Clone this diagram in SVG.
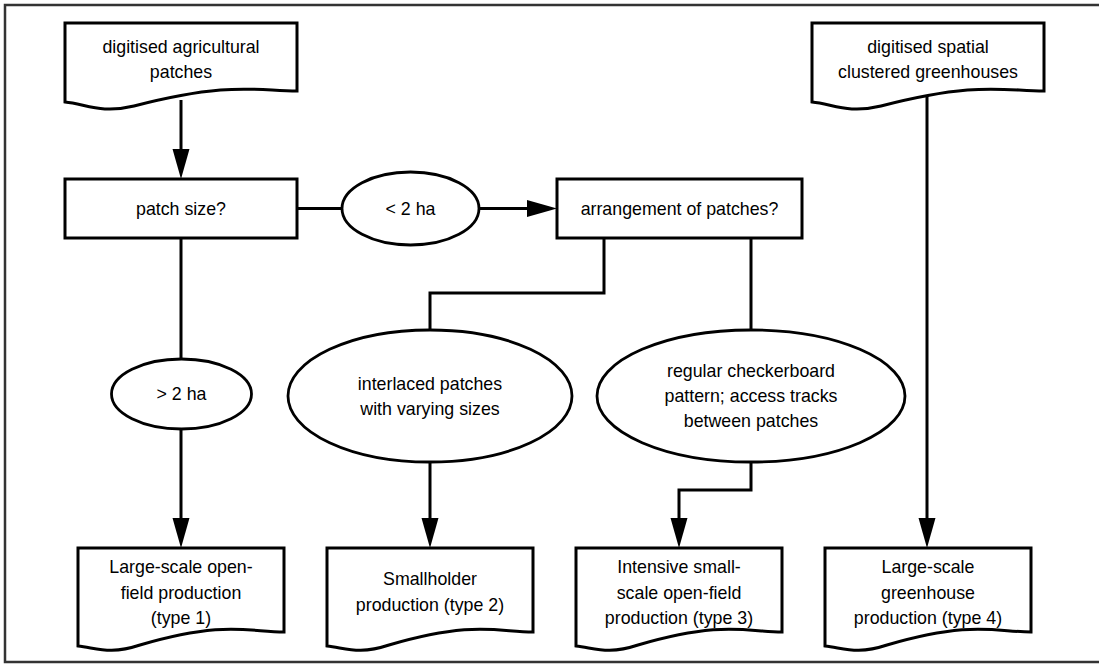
<svg xmlns="http://www.w3.org/2000/svg" width="1099" height="664" viewBox="0 0 1099 664">
<style>
.shape{fill:#fff;stroke:#000;stroke-width:3}
.ell{fill:#fff;stroke:#000;stroke-width:2.8}
.conn{fill:none;stroke:#000;stroke-width:3}
text{font-family:"Liberation Sans",Arial,sans-serif;font-size:17.8px;fill:#000;text-anchor:middle}
</style>
<defs>
<marker id="arr" markerUnits="userSpaceOnUse" markerWidth="31" markerHeight="18" refX="0" refY="8.5" orient="auto" overflow="visible">
<path d="M0,0 L30,8.5 L0,17 Z" fill="#000"/>
</marker>
</defs>
<rect width="1099" height="664" fill="#fff"/>
<rect id="frame" x="5" y="5" width="1200" height="657" fill="none" stroke="#333" stroke-width="2.5"/>
<g id="connectors">
<path class="conn" d="M181,100 V149" marker-end="url(#arr)"/>
<path class="conn" d="M297,208.5 H342"/>
<path class="conn" d="M479,208.5 H527" marker-end="url(#arr)"/>
<path class="conn" d="M181,238 V359"/>
<path class="conn" d="M181,429 V518" marker-end="url(#arr)"/>
<path class="conn" d="M604,238 V293 H430 V330"/>
<path class="conn" d="M430,462 V518" marker-end="url(#arr)"/>
<path class="conn" d="M751,238 V330"/>
<path class="conn" d="M751,462 V490 H679 V518" marker-end="url(#arr)"/>
<path class="conn" d="M927,95 V518" marker-end="url(#arr)"/>
</g>
<g id="n-digitised-agri">
<path class="shape" d="M65,23 H297 V91 C257,91 231,81 134,106 C101,114 86,104 65,102 Z"/>
<text x="181" y="53">digitised agricultural</text>
<text x="181" y="78">patches</text>
</g>
<g id="n-digitised-green">
<path class="shape" d="M812,23 H1044 V91 C1004,91 978,81 881,106 C848,114 833,104 812,102 Z"/>
<text x="928" y="53">digitised spatial</text>
<text x="928" y="78">clustered greenhouses</text>
</g>
<g id="n-patch-size">
<rect class="shape" x="65" y="179" width="232" height="59"/>
<text x="181" y="215">patch size?</text>
</g>
<g id="n-lt2">
<ellipse class="ell" cx="410.5" cy="208.5" rx="68.5" ry="36.5"/>
<text x="410.5" y="215">&lt; 2 ha</text>
</g>
<g id="n-arrangement">
<rect class="shape" x="557" y="179" width="245" height="59"/>
<text x="679.5" y="215">arrangement of patches?</text>
</g>
<g id="n-gt2">
<ellipse class="ell" cx="181.5" cy="394" rx="70" ry="35"/>
<text x="181.5" y="400">&gt; 2 ha</text>
</g>
<g id="n-interlaced">
<ellipse class="ell" cx="430" cy="396" rx="142" ry="66"/>
<text x="430" y="390">interlaced patches</text>
<text x="430" y="415">with varying sizes</text>
</g>
<g id="n-checkerboard">
<ellipse class="ell" cx="751" cy="396" rx="154" ry="66"/>
<text x="751" y="377">regular checkerboard</text>
<text x="751" y="402">pattern; access tracks</text>
<text x="751" y="427">between patches</text>
</g>
<g id="n-type1">
<path class="shape" d="M78,548 H284 V632 C249,632 226,620 140,645 C110,655 97,648 78,646 Z"/>
<text x="181" y="573">Large-scale open-</text>
<text x="181" y="598.5">field production</text>
<text x="181" y="624">(type 1)</text>
</g>
<g id="n-type2">
<path class="shape" d="M327,548 H533 V632 C498,632 475,620 389,645 C359,655 346,648 327,646 Z"/>
<text x="430" y="585">Smallholder</text>
<text x="430" y="610.5">production (type 2)</text>
</g>
<g id="n-type3">
<path class="shape" d="M576,548 H782 V632 C747,632 724,620 638,645 C608,655 595,648 576,646 Z"/>
<text x="679" y="573">Intensive small-</text>
<text x="679" y="598.5">scale open-field</text>
<text x="679" y="624">production (type 3)</text>
</g>
<g id="n-type4">
<path class="shape" d="M825,548 H1031 V632 C996,632 973,620 887,645 C857,655 844,648 825,646 Z"/>
<text x="928" y="573">Large-scale</text>
<text x="928" y="598.5">greenhouse</text>
<text x="928" y="624">production (type 4)</text>
</g>
</svg>
